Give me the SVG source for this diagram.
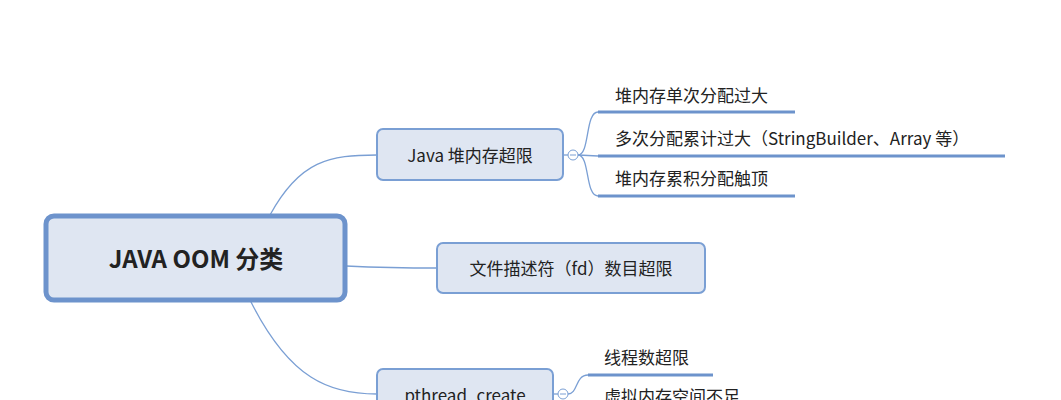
<svg xmlns="http://www.w3.org/2000/svg" width="1061" height="400" viewBox="0 0 1061 400">
<style>
.n{fill:#dfe6f2;stroke:#7a9fd4;stroke-width:2}
.t{font-family:"Noto Sans CJK SC","Liberation Sans",sans-serif;fill:#222}
.c{fill:none;stroke:#7a9fd4;stroke-width:1.3}
.u{stroke:#6d93cc;stroke-width:3}
</style>
<rect width="1061" height="400" fill="#fff"/>
<g id="connectors">
<path class="c" d="M270 215 C300 160 330 155 377 155"/>
<path class="c" d="M346 266 C390 268 400 268 437 268"/>
<path class="c" d="M250 300 C290 380 330 394 377 394"/>
<path class="c" d="M563 155 L568 155"/>
<path class="c" d="M578 155 C590 155 585 112 598 112"/>
<path class="c" d="M578 155 L598 156"/>
<path class="c" d="M578 155 C590 155 585 196 598 196"/>
<path class="c" d="M553 394 L558 394"/>
<path class="c" d="M568 394 C578 394 575 375 588 375"/>
<circle cx="573" cy="155" r="5" fill="#fff" stroke="#7a9fd4"/>
<line x1="570" y1="155" x2="576" y2="155" stroke="#7a9fd4"/>
<circle cx="563" cy="394" r="5" fill="#fff" stroke="#7a9fd4"/>
<line x1="560" y1="394" x2="566" y2="394" stroke="#7a9fd4"/>
<line class="u" x1="598" y1="112" x2="795" y2="112"/>
<line class="u" x1="598" y1="156" x2="1005" y2="156"/>
<line class="u" x1="598" y1="196" x2="795" y2="196"/>
<line class="u" x1="588" y1="375" x2="713" y2="375"/>
</g>
<g id="root"><rect x="46" y="216" width="299" height="84" rx="8" fill="#dfe6f2" stroke="#6d93cc" stroke-width="5"/>
<text class="t" x="196" y="268" font-size="24" font-weight="bold" text-anchor="middle" fill="#3a4660">JAVA OOM 分类</text></g>
<g id="java"><rect class="n" x="377" y="129" width="186" height="51" rx="6"/>
<text class="t" x="470" y="162" font-size="17" text-anchor="middle">Java 堆内存超限</text></g>
<g id="fd"><rect class="n" x="437" y="243" width="268" height="50" rx="6"/>
<text class="t" x="571" y="275" font-size="17" text-anchor="middle">文件描述符（fd）数目超限</text></g>
<g id="pthread"><rect class="n" x="377" y="369" width="176" height="50" rx="6"/>
<text class="t" x="465" y="402" font-size="17" text-anchor="middle">pthread_create</text></g>
<g id="l1"><text class="t" x="615" y="102" font-size="17">堆内存单次分配过大</text></g>
<g id="l2"><text class="t" x="615" y="145" font-size="17">多次分配累计过大（StringBuilder、Array 等）</text></g>
<g id="l3"><text class="t" x="615" y="185" font-size="17">堆内存累积分配触顶</text></g>
<g id="l4"><text class="t" x="604" y="364" font-size="17">线程数超限</text></g>
<g id="l5"><text class="t" x="604" y="403" font-size="17">虚拟内存空间不足</text></g>
</svg>
